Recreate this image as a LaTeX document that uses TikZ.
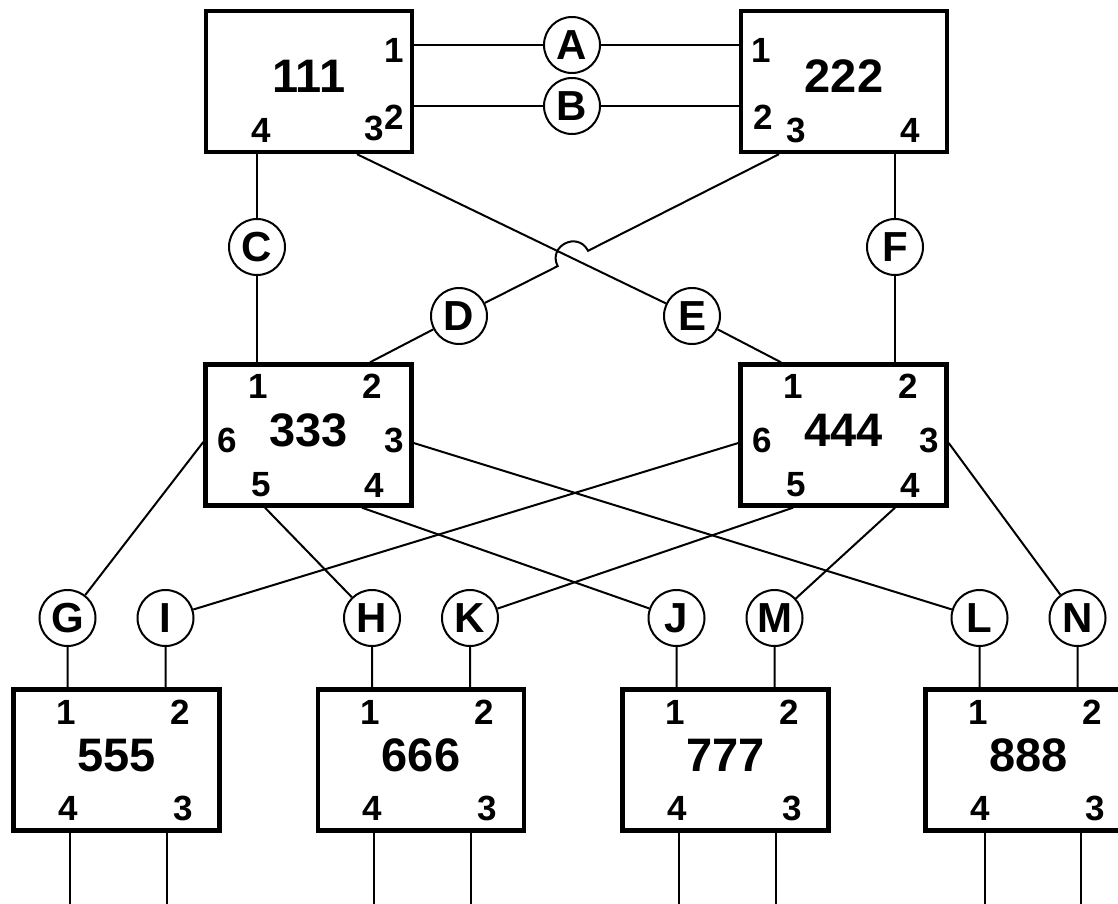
\documentclass[tikz,border=0pt]{standalone}
\usepackage{fontspec}
\setmainfont{Liberation Sans}
\usetikzlibrary{calc}

\begin{document}
\begin{tikzpicture}[
    x=0.5pt, y=0.5pt,
    unit/.style={rectangle, draw, line width=2.2pt, minimum width=103pt, minimum height=70.5pt, inner sep=0pt, text depth=5pt, font=\bfseries\fontsize{23.5}{24}\selectfont},
    port/.style={inner sep=0pt, font=\bfseries\fontsize{17.5}{18}\selectfont},
    link/.style={circle, draw, line width=1pt, minimum size=28pt, inner sep=0pt, font=\bfseries\fontsize{21}{21}\selectfont},
    wire/.style={line width=1pt}
]
    \useasboundingbox (0,0) rectangle (1118,-904);
    \clip (0,0) rectangle (1118,-904);

    % Top units
    \node[unit] (b111) at (309,-81.5) {111};
    \node[unit] (b222) at (844,-81.5) {222};
    \node[port] at ($(b111)+(85,31.5)$) {1};   \node[port] at ($(b111)+(85,-35.5)$) {2};
    \node[port] at ($(b111)+(65,-47)$) {3};    \node[port] at ($(b111)+(-48,-48.5)$) {4};
    \node[port] at ($(b222)+(-83,31.5)$) {1};  \node[port] at ($(b222)+(-81,-35.5)$) {2};
    \node[port] at ($(b222)+(-48,-48.5)$) {3}; \node[port] at ($(b222)+(66,-48.5)$) {4};

    % Middle units
    \node[unit] (b333) at (308.5,-435) {333};
    \node[unit] (b444) at (843.5,-435) {444};
    \node[port] at ($(b333)+(-50.5,49)$) {1};  \node[port] at ($(b333)+(63.5,49)$) {2};
    \node[port] at ($(b333)+(85.5,-5)$) {3};   \node[port] at ($(b333)+(65.5,-50)$) {4};
    \node[port] at ($(b333)+(-47.5,-50)$) {5}; \node[port] at ($(b333)+(-81.5,-5)$) {6};
    \node[port] at ($(b444)+(-50.5,49)$) {1};  \node[port] at ($(b444)+(64.5,49)$) {2};
    \node[port] at ($(b444)+(85.5,-5)$) {3};   \node[port] at ($(b444)+(66.5,-50)$) {4};
    \node[port] at ($(b444)+(-47.5,-50)$) {5}; \node[port] at ($(b444)+(-81.5,-5)$) {6};

    % Bottom units
    \node[unit] (b555) at (116.5,-760) {555};
    \node[unit] (b666) at (421,-760) {666};
    \node[unit] (b777) at (725.5,-760) {777};
    \node[unit] (b888) at (1028.5,-760) {888};
    \node[port] at ($(b555)+(-50.5,48)$) {1}; \node[port] at ($(b555)+(63.5,48)$) {2};
    \node[port] at ($(b555)+(66.5,-48)$) {3}; \node[port] at ($(b555)+(-48.5,-48)$) {4};
    \node[port] at ($(b666)+(-50.5,48)$) {1}; \node[port] at ($(b666)+(63.5,48)$) {2};
    \node[port] at ($(b666)+(66.5,-48)$) {3}; \node[port] at ($(b666)+(-48.5,-48)$) {4};
    \node[port] at ($(b777)+(-50.5,48)$) {1}; \node[port] at ($(b777)+(63.5,48)$) {2};
    \node[port] at ($(b777)+(66.5,-48)$) {3}; \node[port] at ($(b777)+(-48.5,-48)$) {4};
    \node[port] at ($(b888)+(-50.5,48)$) {1}; \node[port] at ($(b888)+(63.5,48)$) {2};
    \node[port] at ($(b888)+(66.5,-48)$) {3}; \node[port] at ($(b888)+(-48.5,-48)$) {4};

    % Links
    \node[link] (A) at (572,-45) {A};
    \node[link] (B) at (572,-106) {B};
    \node[link] (C) at (257,-247) {C};
    \node[link] (F) at (895,-247) {F};
    \node[link] (D) at (459,-316) {D};
    \node[link] (E) at (692,-316) {E};
    \node[link] (G) at (67.5,-618) {G};
    \node[link] (I) at (165.5,-618) {I};
    \node[link] (H) at (372,-618) {H};
    \node[link] (K) at (470,-618) {K};
    \node[link] (J) at (676.5,-618) {J};
    \node[link] (M) at (774.5,-618) {M};
    \node[link] (L) at (979.5,-618) {L};
    \node[link] (N) at (1077.5,-618) {N};

    \coordinate (p111c) at ($(b111.south)+(48,0)$);
    \coordinate (p222c) at ($(b222.south)+(-65,0)$);
    \coordinate (hop) at (intersection of D--p222c and E--p111c);

    % Wires between top and middle
    \draw[wire] (b111.east |- A) -- (A) -- (b222.west |- A);
    \draw[wire] (b111.east |- B) -- (B) -- (b222.west |- B);
    \draw[wire] (b111.south -| C) -- (C) -- (b333.north -| C);
    \draw[wire] (b222.south -| F) -- (F) -- (b444.north -| F);
    \draw[wire] (p111c) -- (E) -- ($(b444.north)+(-62.5,0)$);
    \draw[wire] (p222c) -- ($(hop)!8.5pt!(p222c)$) to[out=117, in=117, looseness=1.7] ($(hop)!8.5pt!(D)$) -- (D) -- ($(b333.north)+(61.5,0)$);

    % Wires between middle and bottom
    \draw[wire] ($(b333.west)+(0,-7)$) -- (G) -- (b555.north -| G);
    \draw[wire] ($(b333.south)+(-43.5,0)$) -- (H) -- (b666.north -| H);
    \draw[wire] ($(b333.south)+(53.5,0)$) -- (J) -- (b777.north -| J);
    \draw[wire] ($(b333.east)+(0,-8)$) -- (L) -- (b888.north -| L);
    \draw[wire] ($(b444.west)+(0,-8)$) -- (I) -- (b555.north -| I);
    \draw[wire] ($(b444.south)+(-50.5,0)$) -- (K) -- (b666.north -| K);
    \draw[wire] ($(b444.south)+(51.5,0)$) -- (M) -- (b777.north -| M);
    \draw[wire] ($(b444.east)+(0,-8)$) -- (N) -- (b888.north -| N);

    % Outgoing wires
    \draw[wire] ($(b555.south)+(-47,0)$) -- ++(0,-80);
    \draw[wire] ($(b555.south)+(50,0)$) -- ++(0,-80);
    \draw[wire] ($(b666.south)+(-47,0)$) -- ++(0,-80);
    \draw[wire] ($(b666.south)+(50,0)$) -- ++(0,-80);
    \draw[wire] ($(b777.south)+(-47,0)$) -- ++(0,-80);
    \draw[wire] ($(b777.south)+(50,0)$) -- ++(0,-80);
    \draw[wire] ($(b888.south)+(-44,0)$) -- ++(0,-80);
    \draw[wire] ($(b888.south)+(52,0)$) -- ++(0,-80);
\end{tikzpicture}
\end{document}
